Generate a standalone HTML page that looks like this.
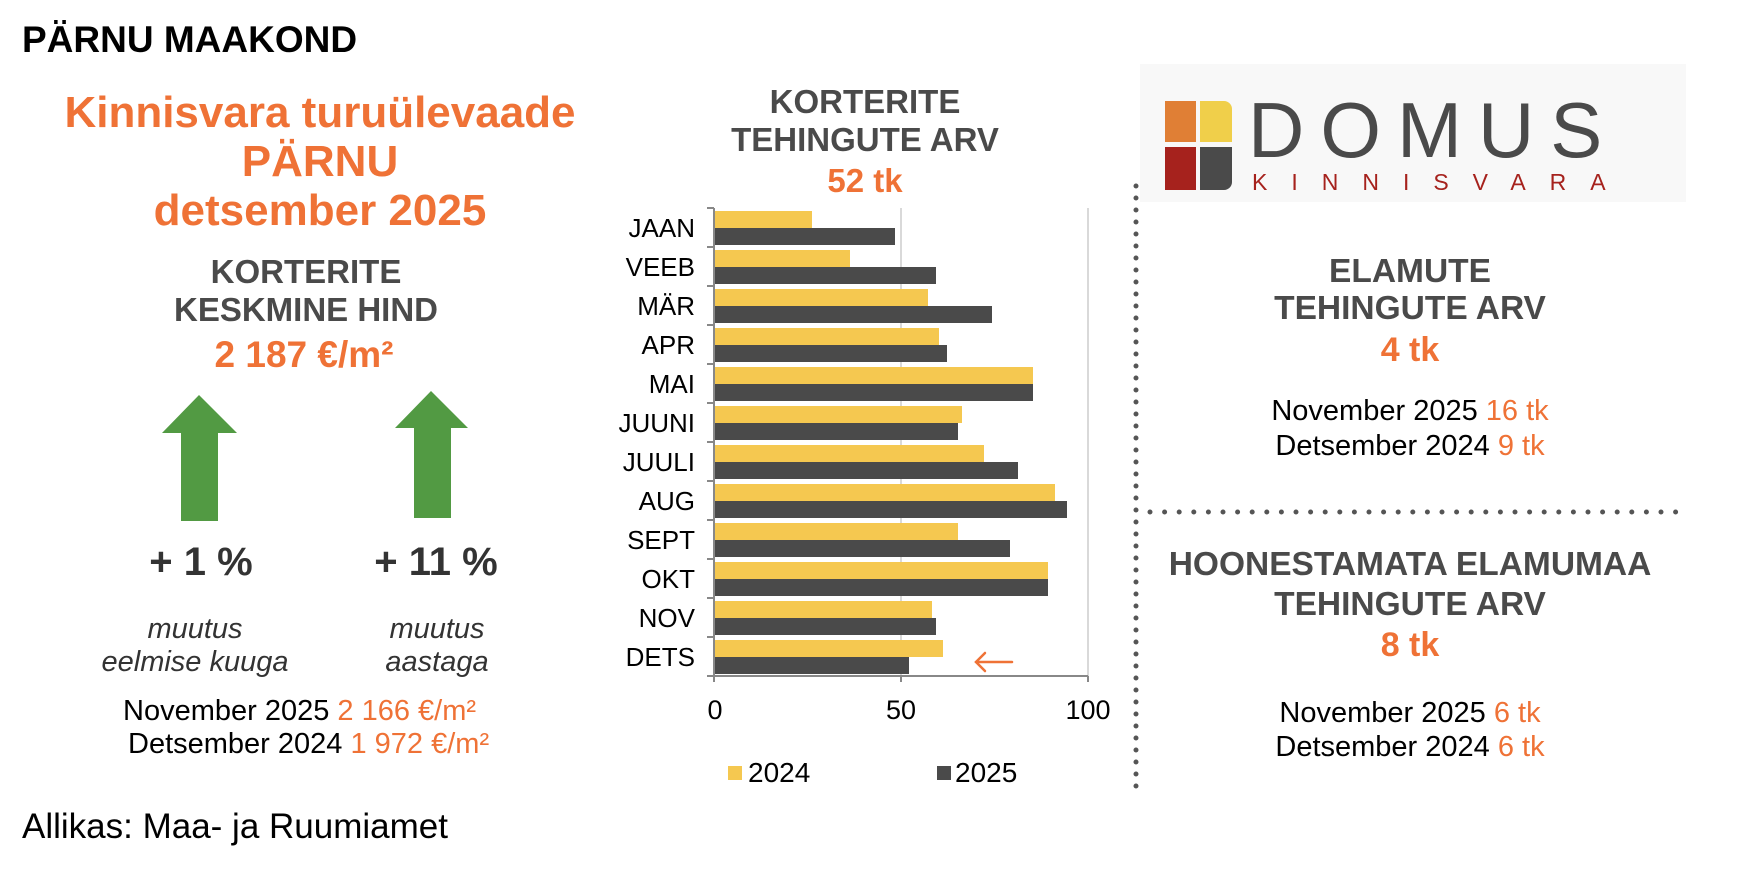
<!DOCTYPE html>
<html><head><meta charset="utf-8"><style>
html,body{margin:0;padding:0;background:#fff;}
svg{display:block;font-family:"Liberation Sans",sans-serif;}
</style></head><body>
<svg width="1744" height="876" viewBox="0 0 1744 876" xmlns="http://www.w3.org/2000/svg">
<!-- Left panel -->
<text x="22" y="52" font-size="37" font-weight="bold" fill="#000">PÄRNU MAAKOND</text>
<g text-anchor="middle" font-weight="bold" fill="#ef7236" font-size="44">
<text x="320" y="127">Kinnisvara turuülevaade</text>
<text x="320" y="176">PÄRNU</text>
<text x="320" y="225">detsember 2025</text>
</g>
<g text-anchor="middle" font-weight="bold" fill="#4a4a4a" font-size="33">
<text x="306" y="283">KORTERITE</text>
<text x="306" y="321">KESKMINE HIND</text>
</g>
<text x="304" y="367" text-anchor="middle" font-weight="bold" fill="#ef7236" font-size="37">2 187 €/m²</text>
<polygon points="199,395 237,433 218,433 218,521 181,521 181,433 162,433" fill="#529a43"/>
<polygon points="431,391 468,428 451,428 451,518 414,518 414,428 395,428" fill="#529a43"/>
<g text-anchor="middle" font-weight="bold" fill="#333" font-size="40">
<text x="201" y="575">+ 1 %</text>
<text x="436" y="575">+ 11 %</text>
</g>
<g text-anchor="middle" font-style="italic" fill="#333" font-size="29">
<text x="195" y="638">muutus</text>
<text x="195" y="671">eelmise kuuga</text>
<text x="437" y="638">muutus</text>
<text x="437" y="671">aastaga</text>
</g>
<g font-size="29" fill="#000">
<text x="123" y="720">November 2025 <tspan fill="#ef7236">2 166 €/m²</tspan></text>
<text x="128" y="753">Detsember 2024 <tspan fill="#ef7236">1 972 €/m²</tspan></text>
</g>
<text x="22" y="838" font-size="35" fill="#000">Allikas: Maa- ja Ruumiamet</text>

<!-- Chart -->
<g text-anchor="middle" font-weight="bold" font-size="33">
<text x="865" y="113" fill="#4a4a4a">KORTERITE</text>
<text x="865" y="151" fill="#4a4a4a">TEHINGUTE ARV</text>
<text x="865" y="192" fill="#ef7236">52 tk</text>
</g>
<g transform="translate(-2,-4)">
<line x1="903" y1="212" x2="903" y2="680" stroke="#d9d9d9" stroke-width="2"/>
<line x1="1090" y1="212" x2="1090" y2="680" stroke="#d9d9d9" stroke-width="2"/>
<g fill="#f5c850">
<rect x="717" y="215" width="97" height="17"/>
<rect x="717" y="254" width="135" height="17"/>
<rect x="717" y="293" width="213" height="17"/>
<rect x="717" y="332" width="224" height="17"/>
<rect x="717" y="371" width="318" height="17"/>
<rect x="717" y="410" width="247" height="17"/>
<rect x="717" y="449" width="269" height="17"/>
<rect x="717" y="488" width="340" height="17"/>
<rect x="717" y="527" width="243" height="17"/>
<rect x="717" y="566" width="333" height="17"/>
<rect x="717" y="605" width="217" height="17"/>
<rect x="717" y="644" width="228" height="17"/>
</g>
<g fill="#4a4a4a">
<rect x="717" y="232" width="180" height="17"/>
<rect x="717" y="271" width="221" height="17"/>
<rect x="717" y="310" width="277" height="17"/>
<rect x="717" y="349" width="232" height="17"/>
<rect x="717" y="388" width="318" height="17"/>
<rect x="717" y="427" width="243" height="17"/>
<rect x="717" y="466" width="303" height="17"/>
<rect x="717" y="505" width="352" height="17"/>
<rect x="717" y="544" width="295" height="17"/>
<rect x="717" y="583" width="333" height="17"/>
<rect x="717" y="622" width="221" height="17"/>
<rect x="717" y="661" width="194" height="17"/>
</g>
<g stroke="#888" stroke-width="2">
<line x1="716" y1="212" x2="716" y2="686"/>
<line x1="716" y1="680" x2="1090" y2="680"/>
<line x1="709" y1="212" x2="716" y2="212"/>
<line x1="709" y1="251" x2="716" y2="251"/>
<line x1="709" y1="290" x2="716" y2="290"/>
<line x1="709" y1="329" x2="716" y2="329"/>
<line x1="709" y1="368" x2="716" y2="368"/>
<line x1="709" y1="407" x2="716" y2="407"/>
<line x1="709" y1="446" x2="716" y2="446"/>
<line x1="709" y1="485" x2="716" y2="485"/>
<line x1="709" y1="524" x2="716" y2="524"/>
<line x1="709" y1="563" x2="716" y2="563"/>
<line x1="709" y1="602" x2="716" y2="602"/>
<line x1="709" y1="641" x2="716" y2="641"/>
<line x1="709" y1="680" x2="716" y2="680"/>
<line x1="903" y1="680" x2="903" y2="686"/>
<line x1="1090" y1="680" x2="1090" y2="686"/>
</g>
<g text-anchor="end" font-size="26" fill="#000">
<text x="697" y="241">JAAN</text>
<text x="697" y="280">VEEB</text>
<text x="697" y="319">MÄR</text>
<text x="697" y="358">APR</text>
<text x="697" y="397">MAI</text>
<text x="697" y="436">JUUNI</text>
<text x="697" y="475">JUULI</text>
<text x="697" y="514">AUG</text>
<text x="697" y="553">SEPT</text>
<text x="697" y="592">OKT</text>
<text x="697" y="631">NOV</text>
<text x="697" y="670">DETS</text>
</g>
<g text-anchor="middle" font-size="27" fill="#000">
<text x="717" y="723">0</text>
<text x="903" y="723">50</text>
<text x="1090" y="723">100</text>
</g>
<g stroke="#ef7236" stroke-width="2.5" fill="none" stroke-linecap="round">
<line x1="978" y1="666" x2="1014" y2="666"/>
<polyline points="987,657 978,666 987,675"/>
</g>
</g>
<rect x="728" y="766" width="14" height="14" fill="#f5c850"/>
<text x="748" y="782" font-size="28" fill="#000">2024</text>
<rect x="937" y="766" width="14" height="14" fill="#4a4a4a"/>
<text x="955" y="782" font-size="28" fill="#000">2025</text>

<!-- Dotted lines -->
<line x1="1136" y1="186" x2="1136" y2="794" stroke="#555" stroke-width="5" stroke-linecap="round" stroke-dasharray="0 12"/>
<line x1="1150" y1="512" x2="1677" y2="512" stroke="#555" stroke-width="5" stroke-linecap="round" stroke-dasharray="0 14.6"/>

<!-- Logo -->
<rect x="1140" y="64" width="546" height="138" fill="#f8f8f8"/>
<rect x="1165" y="101" width="31" height="41" fill="#e07f35"/>
<path d="M1200,101 h24 a8,8 0 0 1 8,8 v33 h-32 z" fill="#f0cf4a"/>
<rect x="1165" y="147" width="31" height="43" fill="#a6221d"/>
<path d="M1200,147 h32 v35 a8,8 0 0 1 -8,8 h-24 z" fill="#4a4a4a"/>
<text x="1248" y="157" font-size="78" fill="#4a4a4a" letter-spacing="16">DOMUS</text>
<text x="1252" y="190" font-size="23" fill="#a6221d" letter-spacing="24">KINNISVARA</text>

<!-- Right panels -->
<g text-anchor="middle" font-weight="bold" fill="#4a4a4a" font-size="33.5">
<text x="1410" y="282">ELAMUTE</text>
<text x="1410" y="319">TEHINGUTE ARV</text>
<text x="1410" y="575">HOONESTAMATA ELAMUMAA</text>
<text x="1410" y="615">TEHINGUTE ARV</text>
</g>
<g text-anchor="middle" font-weight="bold" fill="#ef7236" font-size="34">
<text x="1410" y="361">4 tk</text>
<text x="1410" y="656">8 tk</text>
</g>
<g text-anchor="middle" font-size="29" fill="#000" xml:space="preserve">
<text x="1410" y="420">November 2025  <tspan fill="#ef7236">16 tk</tspan></text>
<text x="1410" y="455">Detsember 2024  <tspan fill="#ef7236">9 tk</tspan></text>
<text x="1410" y="722">November 2025 <tspan fill="#ef7236">6 tk</tspan></text>
<text x="1410" y="756">Detsember 2024 <tspan fill="#ef7236">6 tk</tspan></text>
</g>
</svg>
</body></html>
